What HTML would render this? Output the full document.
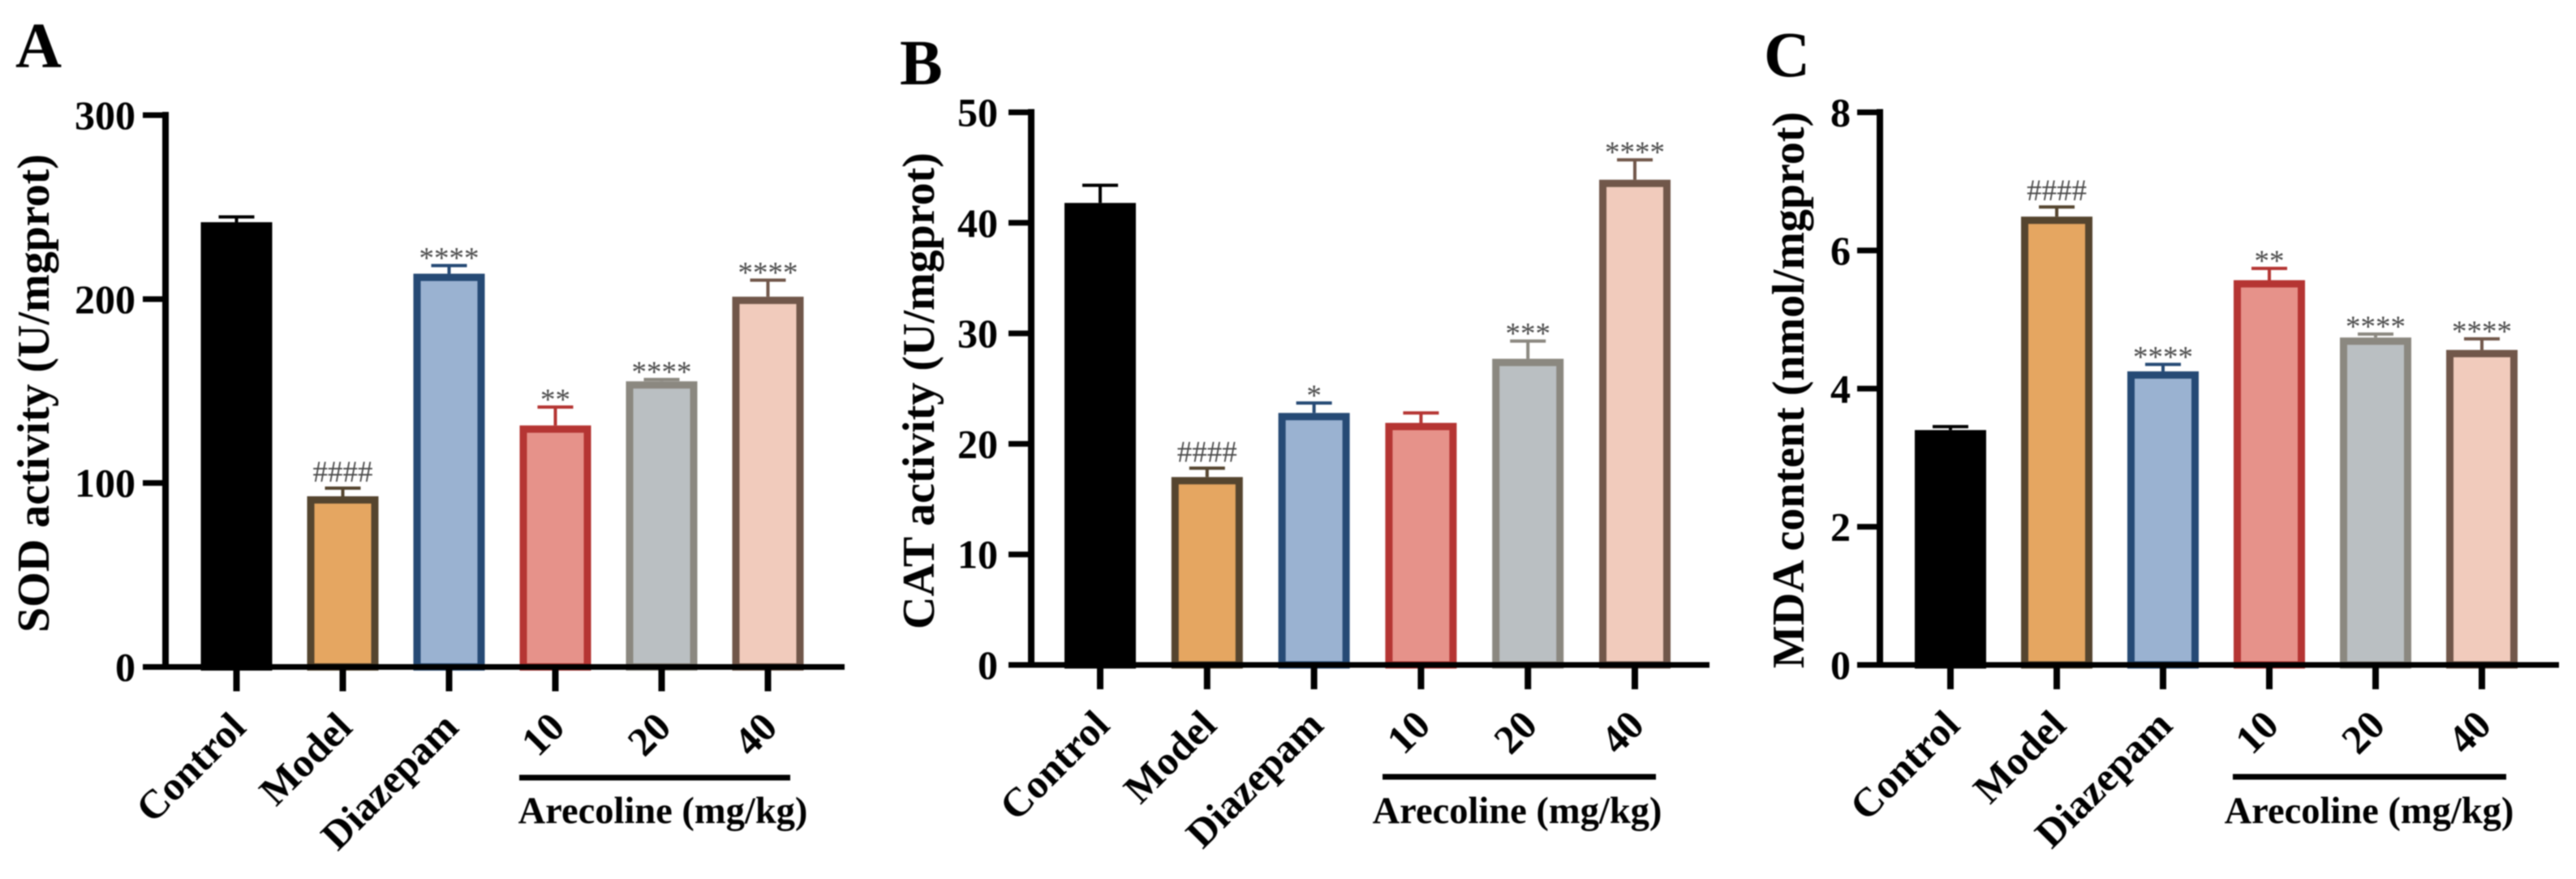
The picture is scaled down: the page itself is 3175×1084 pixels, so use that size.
<!DOCTYPE html>
<html lang="en">
<head>
<meta charset="utf-8">
<title>SOD, CAT and MDA bar charts</title>
<style>
html,body{margin:0;padding:0;background:#fff;}
svg{display:block;filter:blur(0.7px);}
text{font-family:"Liberation Serif",serif;}
</style>
</head>
<body>
<svg xmlns="http://www.w3.org/2000/svg" id="figure" width="3175" height="1084" viewBox="0 0 3175 1084">
  <rect width="3175" height="1084" fill="#fff"/>
  <text x="19" y="83" font-size="79" font-weight="700">A</text>
  <text x="1109" y="104" font-size="79" font-weight="700">B</text>
  <text x="2174" y="94" font-size="79" font-weight="700">C</text>
  <g id="panel-a"></g>
  <g id="panel-b"></g>
  <g id="panel-c"></g>
</svg>
<script>
const categories = ['Control', 'Model', 'Diazepam', '10', '20', '40'];
const groupTitle = 'Arecoline (mg/kg)';

const sodTicks = [0, 100, 200, 300];
const sodValues = [241.8, 92.8, 213.8, 131.3, 155.3, 201.3];
const sodErrors = [2.9, 4.4, 4.4, 10, 1, 9];
const sodMarks = ['', '####', '****', '**', '****', '****'];

const catTicks = [0, 10, 20, 30, 40, 50];
const catValues = [41.8, 17, 22.8, 21.9, 27.7, 43.9];
const catErrors = [1.6, 0.8, 0.9, 0.9, 1.6, 1.8];
const catMarks = ['', '####', '*', '', '***', '****'];

const mdaTicks = [0, 2, 4, 6, 8];
const mdaValues = [3.4, 6.49, 4.25, 5.57, 4.74, 4.56];
const mdaErrors = [0.05, 0.14, 0.1, 0.17, 0.05, 0.16];
const mdaMarks = ['', '####', '****', '**', '****', '****'];

const strokeColors = ['#000000', '#55452f', '#264a75', '#b53533', '#8b8880', '#71574a'];
const fillColors = ['#000000', '#e5a661', '#9ab2d1', '#e6928a', '#babfc2', '#f1cbbc'];

const NS = 'http://www.w3.org/2000/svg';

function mk(tag, attrs, parent) {
  const el = document.createElementNS(NS, tag);
  for (const k in attrs) el.setAttribute(k, attrs[k]);
  parent.appendChild(el);
  return el;
}

function drawPanel(cfg) {
  const root = document.getElementById(cfg.id);
  const yMax = cfg.ticks[cfg.ticks.length - 1];
  const y = v => cfg.y0 - (v / yMax) * (cfg.y0 - cfg.yTop);
  const x = i => cfg.x0 + i * cfg.step;
  const halfBar = 44;
  const sw = 9;

  categories.forEach((name, i) => {
    const key = name.toLowerCase();
    const barGroup = mk('g', {}, root);
    
    

    const top = y(cfg.values[i]);
    const errTop = y(cfg.values[i] + cfg.errors[i]);
    const col = strokeColors[i];

    const stem = mk('line', {x1: x(i), x2: x(i), y1: errTop, y2: top, stroke: col, 'stroke-width': 4}, barGroup);
    
    

    const cap = mk('line', {x1: x(i) - 22, x2: x(i) + 22, y1: errTop, y2: errTop, stroke: col, 'stroke-width': 4}, barGroup);
    
    

    const bar = mk('rect', {
      x: x(i) - halfBar + sw / 2, y: top + sw / 2,
      width: halfBar * 2 - sw, height: Math.max(cfg.y0 - top - sw / 2, 0),
      fill: fillColors[i], stroke: col, 'stroke-width': sw
    }, barGroup);
    
    

    if (cfg.marks[i]) {
      const isHash = cfg.marks[i].charAt(0) === '#';
      const mark = mk('text', {
        x: x(i), y: errTop + (isHash ? -8 : 3),
        'font-size': 37, fill: '#4a4a4a', 'text-anchor': 'middle'
      }, barGroup);
      mark.textContent = cfg.marks[i];
      
      
    }

    const tick = mk('line', {x1: x(i), x2: x(i), y1: cfg.y0, y2: cfg.y0 + 30, stroke: '#000', 'stroke-width': 8}, root);
    
    

    const ax = x(i) + 14;
    const ay = cfg.y0 + 77;
    const label = mk('text', {
      x: ax, y: ay, 'font-size': 50, 'font-weight': 700, 'text-anchor': 'end',
      transform: 'rotate(-45 ' + ax + ' ' + ay + ')'
    }, root);
    label.textContent = name;
    
    
  });

  const yLine = mk('line', {x1: cfg.axisX, x2: cfg.axisX, y1: cfg.yTop - 4, y2: cfg.y0 + 3.5, stroke: '#000', 'stroke-width': 8}, root);
  
  

  const xLine = mk('line', {x1: cfg.axisX - 28, x2: cfg.axisEnd, y1: cfg.y0, y2: cfg.y0, stroke: '#000', 'stroke-width': 7}, root);
  
  

  cfg.ticks.forEach(t => {
    const tick = mk('line', {x1: cfg.axisX - 28, x2: cfg.axisX, y1: y(t), y2: y(t), stroke: '#000', 'stroke-width': 7}, root);
    
    

    const label = mk('text', {x: cfg.tickLabelX, y: y(t) + 17, 'font-size': 50, 'font-weight': 700, 'text-anchor': 'end'}, root);
    label.textContent = t;
    
    
  });

  const title = mk('text', {
    x: cfg.titleX, y: cfg.titleY, 'font-size': 56, 'font-weight': 700, 'text-anchor': 'middle',
    transform: 'rotate(-90 ' + cfg.titleX + ' ' + cfg.titleY + ')'
  }, root);
  title.textContent = cfg.title;
  
  

  const groupLine = mk('line', {x1: cfg.groupX1, x2: cfg.groupX2, y1: cfg.groupY, y2: cfg.groupY, stroke: '#000', 'stroke-width': 7}, root);
  
  

  const groupLabel = mk('text', {x: cfg.groupLabelX, y: 1015, 'font-size': 46.5, 'font-weight': 700, 'text-anchor': 'middle'}, root);
  groupLabel.textContent = groupTitle;
  
  
}

drawPanel({
  id: 'panel-a', title: 'SOD activity (U/mgprot)',
  ticks: sodTicks, values: sodValues, errors: sodErrors, marks: sodMarks,
  axisX: 204, axisEnd: 1041, y0: 822.5, yTop: 142, x0: 291.5, step: 131,
  tickLabelX: 167, titleX: 60, titleY: 485,
  groupX1: 640, groupX2: 974, groupY: 959, groupLabelX: 817
});
drawPanel({
  id: 'panel-b', title: 'CAT activity (U/mgprot)',
  ticks: catTicks, values: catValues, errors: catErrors, marks: catMarks,
  axisX: 1271, axisEnd: 2107, y0: 820, yTop: 138.5, x0: 1356, step: 131.8,
  tickLabelX: 1230, titleX: 1151, titleY: 482,
  groupX1: 1704, groupX2: 2041, groupY: 958, groupLabelX: 1870
});
drawPanel({
  id: 'panel-c', title: 'MDA content (nmol/mgprot)',
  ticks: mdaTicks, values: mdaValues, errors: mdaErrors, marks: mdaMarks,
  axisX: 2317, axisEnd: 3154, y0: 820, yTop: 138.5, x0: 2404, step: 131,
  tickLabelX: 2281, titleX: 2223, titleY: 481,
  groupX1: 2752, groupX2: 3089, groupY: 958, groupLabelX: 2920
});
</script>
</body>
</html>
